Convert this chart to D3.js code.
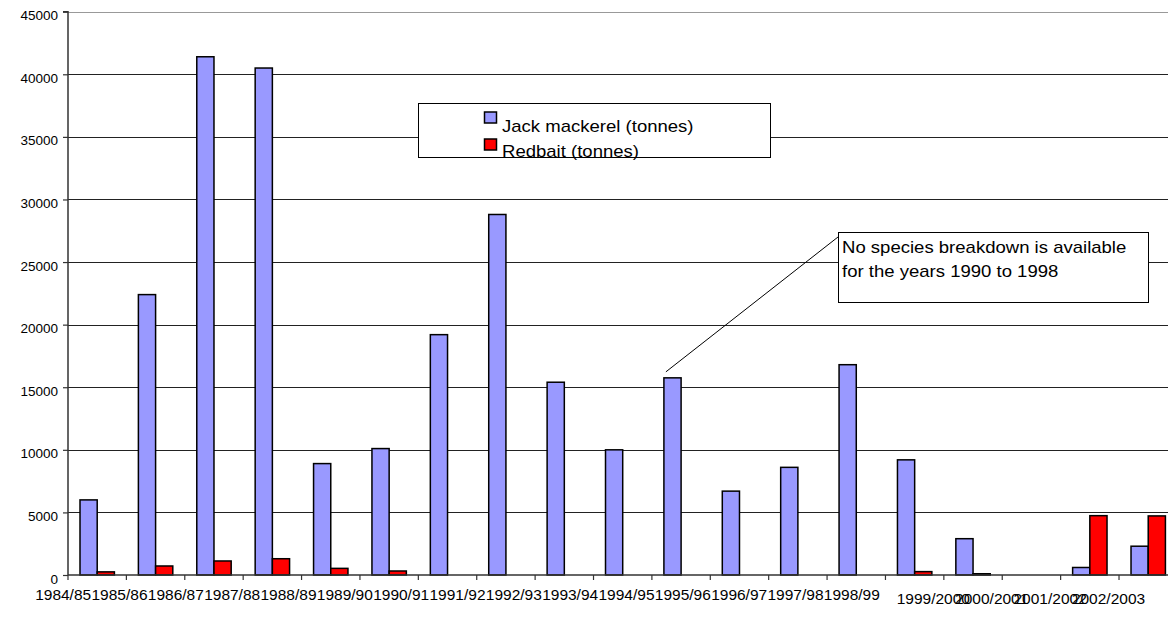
<!DOCTYPE html>
<html>
<head>
<meta charset="utf-8">
<script src="https://cdn.jsdelivr.net/npm/d3@7/dist/d3.min.js"></script>
<style>
  html, body { margin: 0; padding: 0; background: #fff; }
  svg { display: block; }
  text { font-family: "Liberation Sans", Arial, sans-serif; fill: #000; }
</style>
</head>
<body>
<svg id="chart" width="1168" height="628"></svg>
<script>
// ---- data ----
const categories = ["1984/85","1985/86","1986/87","1987/88","1988/89","1989/90","1990/91","1991/92","1992/93","1993/94","1994/95","1995/96","1996/97","1997/98","1998/99","1999/2000","2000/2001","2001/2002","2002/2003"];
const jackMackerel = [6000,22400,41400,40500,8900,10100,19200,28800,15400,10000,15750,6700,8600,16800,9200,2900,0,600,2300];
const redbait = [250,720,1120,1300,530,320,0,0,0,0,0,0,0,0,270,100,0,4740,4720];
const seriesNames = ["Jack mackerel (tonnes)","Redbait (tonnes)"];
const seriesColors = ["#9999FF","#FF0000"];
const yTicks = [0,5000,10000,15000,20000,25000,30000,35000,40000,45000];
const noteLines = ["No species breakdown is available","for the years 1990 to 1998"];
const noteCategory = "1994/95";

// ---- layout ----
const svg = d3.select("#chart");
const x0 = 68, bandW = 58.39;
const x = d3.scaleBand().domain(categories).range([x0, x0 + bandW * categories.length]).padding(0);
const sub = d3.scaleBand().domain([0,1]).range([12, 12 + 34.4]).padding(0);
const y = d3.scaleLinear().domain([0,45000]).range([575, 11.7]);

function stretch(sel, k) {
  sel.each(function(){
    const w = this.getComputedTextLength();
    d3.select(this).attr("textLength", w * k).attr("lengthAdjust", "spacingAndGlyphs");
  });
}

// gridlines
svg.append("g").selectAll("line").data(yTicks.filter(d => d > 0)).join("line")
  .attr("x1", x0).attr("x2", 1168)
  .attr("y1", d => Math.round(y(d)) + 0.5).attr("y2", d => Math.round(y(d)) + 0.5)
  .attr("stroke", d => d === 45000 ? "#999" : "#222").attr("stroke-width", 1);

// y axis
const yAxis = d3.axisLeft(y).tickValues(yTicks).tickSize(5).tickPadding(9).tickFormat(d3.format("d"));
const gy = svg.append("g").attr("transform", `translate(${x0},0)`).call(yAxis);
gy.select(".domain").attr("stroke", "#333").attr("stroke-width", 1.5).attr("d", `M-5,${y(45000)}H0V${y(0)}`);
gy.selectAll(".tick line").attr("stroke", "#333").attr("stroke-width", 1.2);
gy.selectAll(".tick text").attr("font-size", 13.5).attr("dy", "0.6em").attr("x", -10)
  .style("font-family", "'Liberation Sans', Arial, sans-serif").attr("fill", "#000");

// bars
const series = [jackMackerel, redbait];
series.forEach((vals, si) => {
  svg.append("g").selectAll("rect")
    .data(categories.map((c, i) => ({c, v: vals[i]})).filter(d => d.v > 0))
    .join("rect")
    .attr("x", d => x(d.c) + sub(si))
    .attr("width", sub.bandwidth())
    .attr("y", d => y(d.v))
    .attr("height", d => y(0) - y(d.v))
    .attr("fill", seriesColors[si])
    .attr("stroke", "#000").attr("stroke-width", 1.5);
});

// x axis line + ticks
const xg = svg.append("g");
xg.append("line").attr("x1", x0).attr("x2", 1168).attr("y1", y(0)).attr("y2", y(0))
  .attr("stroke", "#333").attr("stroke-width", 1.5);
xg.selectAll("line.tk").data(categories).join("line").attr("class","tk")
  .attr("x1", d => x(d)).attr("x2", d => x(d))
  .attr("y1", y(0)).attr("y2", y(0) + 5)
  .attr("stroke", "#333").attr("stroke-width", 1.2);

// x labels: short labels run together as a row; long labels sit lower
const shortCats = categories.filter(d => d.length <= 7);
const xl = d3.scaleBand().domain(shortCats).range([35, 880]).padding(0);
xg.selectAll("text.xl").data(categories).join("text").attr("class","xl")
  .attr("font-size", 15.5).attr("text-anchor", "middle")
  .attr("x", d => d.length > 7 ? x(d) - 10.5 : xl(d) + xl.bandwidth() / 2)
  .attr("y", d => d.length > 7 ? 604 : 600)
  .text(d => d);

// legend
const lg = svg.append("g");
lg.append("rect").attr("x", 418.5).attr("y", 103.5).attr("width", 352).attr("height", 54)
  .attr("fill", "#fff").attr("stroke", "#000").attr("stroke-width", 1);
seriesNames.forEach((n, i) => {
  lg.append("rect").attr("x", 484.5).attr("y", 112 + i * 27).attr("width", 12).attr("height", 11)
    .attr("fill", seriesColors[i]).attr("stroke", "#000").attr("stroke-width", 1.5);
  const t = lg.append("text").attr("x", 502).attr("y", 132 + i * 24.5).attr("font-size", 17).text(n);
  stretch(t, 1.09);
});

// annotation
const ax = x(noteCategory) + sub(0) + 2, ay = y(jackMackerel[categories.indexOf(noteCategory)]) - 6;
const ng = svg.append("g");
ng.append("line").attr("x1", 838).attr("y1", 237).attr("x2", ax).attr("y2", ay)
  .attr("stroke", "#000").attr("stroke-width", 1);
ng.append("rect").attr("x", 838.5).attr("y", 232.5).attr("width", 310).attr("height", 70)
  .attr("fill", "#fff").attr("stroke", "#000").attr("stroke-width", 1);
noteLines.forEach((s, i) => {
  const t = ng.append("text").attr("x", 842).attr("y", 253 + i * 24).attr("font-size", 17).text(s);
  stretch(t, 1.09);
});
</script>
</body>
</html>
